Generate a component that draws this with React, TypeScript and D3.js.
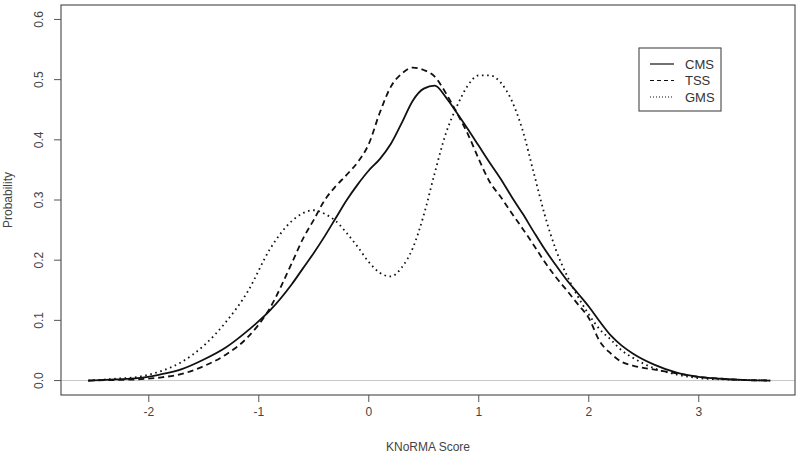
import React from "react";
import * as d3 from "d3";

// KNoRMA score grid shared by the three density curves
const scores = [
  -2.55, -2.3, -2.1, -1.9, -1.7, -1.5, -1.3, -1.1, -0.9, -0.7, -0.6, -0.5, -0.4, -0.3, -0.2, -0.1,
  0, 0.1, 0.2, 0.3, 0.4, 0.5, 0.6, 0.7, 0.8, 0.9, 1.0, 1.1, 1.2, 1.3, 1.4, 1.5, 1.6, 1.7, 1.8, 1.9,
  2.0, 2.1, 2.2, 2.3, 2.4, 2.6, 2.8, 3.0, 3.2, 3.4, 3.65,
];

const cms = [
  0, 0.002, 0.004, 0.01, 0.019, 0.035, 0.055, 0.083, 0.116, 0.16, 0.186, 0.212, 0.24, 0.27, 0.3, 0.326,
  0.349, 0.368, 0.393, 0.428, 0.465, 0.485, 0.49, 0.471, 0.445, 0.418, 0.39, 0.362, 0.335, 0.305, 0.277, 0.247,
  0.218, 0.192, 0.167, 0.145, 0.123, 0.098, 0.075, 0.058, 0.045, 0.026, 0.013, 0.006, 0.003, 0.001, 0,
];

const tss = [
  0, 0.001, 0.002, 0.005, 0.011, 0.024, 0.043, 0.072, 0.12, 0.195, 0.235, 0.267, 0.3, 0.323, 0.342, 0.363,
  0.393, 0.445, 0.488, 0.51, 0.52, 0.516, 0.505, 0.478, 0.445, 0.41, 0.368, 0.33, 0.305, 0.278, 0.252, 0.225,
  0.197, 0.172, 0.15, 0.127, 0.104, 0.065, 0.045, 0.031, 0.025, 0.018, 0.012, 0.006, 0.003, 0.001, 0,
];

const gms = [
  0, 0.003, 0.006, 0.015, 0.031, 0.058, 0.097, 0.148, 0.218, 0.265, 0.278, 0.283, 0.277, 0.265, 0.245, 0.222,
  0.197, 0.179, 0.173, 0.188, 0.22, 0.275, 0.345, 0.41, 0.455, 0.49, 0.507, 0.507, 0.495, 0.465, 0.415, 0.345,
  0.275, 0.218, 0.175, 0.14, 0.11, 0.085, 0.068, 0.05, 0.038, 0.02, 0.01, 0.004, 0.002, 0.001, 0,
];

const seriesNames = ["CMS", "TSS", "GMS"];
const dashes = [null, "6,4", "1.6,3.6"];
const xTicks = [-2, -1, 0, 1, 2, 3];
const yTicks = [0, 0.1, 0.2, 0.3, 0.4, 0.5, 0.6];

const W = 800, H = 460;
const box = { left: 61, right: 795, top: 5, bottom: 395 };
const axisCol = "#555";
const font = "'Liberation Sans', Arial, sans-serif";

export default function App() {
  // R-style 4% padding around the data range
  const x = d3.scaleLinear().domain([-2.798, 3.875]).range([box.left, box.right]);
  const y = d3.scaleLinear().domain([-0.024, 0.624]).range([box.bottom, box.top]);

  const line = d3
    .line<number>()
    .x((_, i) => x(scores[i]))
    .y((d) => y(d))
    .curve(d3.curveMonotoneX);

  const all = [cms, tss, gms];

  return (
    <svg width={W} height={H} style={{ position: "absolute", left: 0, top: 0, background: "#fff" }} fontFamily={font}>
      <rect x={0} y={0} width={W} height={H} fill="#fff" />
      <line x1={box.left} x2={box.right} y1={y(0)} y2={y(0)} stroke="#c8c8c8" strokeWidth={1} />

      {all.map((vals, i) => (
        <path
          key={seriesNames[i]}
          d={line(vals) || ""}
          fill="none"
          stroke="#111"
          strokeWidth={1.8}
          strokeDasharray={dashes[i] || undefined}
        />
      ))}

      <rect
        x={box.left}
        y={box.top}
        width={box.right - box.left}
        height={box.bottom - box.top}
        fill="none"
        stroke={axisCol}
        strokeWidth={1.2}
      />

      {/* x axis */}
      {xTicks.map((t) => (
        <g key={t}>
          <line x1={x(t)} x2={x(t)} y1={box.bottom} y2={box.bottom + 7} stroke={axisCol} />
          <text x={x(t)} y={box.bottom + 21} textAnchor="middle" fontSize={12} fill="#444">
            {t}
          </text>
        </g>
      ))}
      <text x={(box.left + box.right) / 2} y={451} textAnchor="middle" fontSize={12} fill="#444">
        KNoRMA Score
      </text>

      {/* y axis */}
      {yTicks.map((t) => (
        <g key={t}>
          <line x1={box.left - 7} x2={box.left} y1={y(t)} y2={y(t)} stroke={axisCol} />
          <text
            transform={`translate(${box.left - 18},${y(t)}) rotate(-90)`}
            textAnchor="middle"
            fontSize={12}
            fill="#444"
          >
            {t.toFixed(1)}
          </text>
        </g>
      ))}
      <text
        transform={`translate(12,${(box.top + box.bottom) / 2}) rotate(-90)`}
        textAnchor="middle"
        fontSize={12}
        fill="#444"
      >
        Probability
      </text>

      {/* legend */}
      <rect x={639} y={48} width={82} height={63} fill="#fff" stroke={axisCol} strokeWidth={1.2} />
      {seriesNames.map((name, i) => (
        <g key={name} transform={`translate(0,${64 + i * 16.5})`}>
          <line
            x1={650}
            x2={674}
            y1={0}
            y2={0}
            stroke="#111"
            strokeWidth={1.2}
            strokeDasharray={dashes[i] ? (i === 1 ? "4,3" : "1,2") : undefined}
          />
          <text x={685} y={4.5} fontSize={13} fill="#333">
            {name}
          </text>
        </g>
      ))}
    </svg>
  );
}
